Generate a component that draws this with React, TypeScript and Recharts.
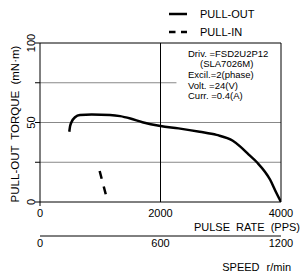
import { LineChart, Line, XAxis, YAxis, ReferenceLine, Customized } from 'recharts';

const pulseRate = [486, 498, 526, 581, 664, 858, 1162, 1330, 1500, 1700, 2000, 2300, 2650, 2930, 3200, 3320, 3460, 3600, 3820, 3920, 4000];
const pullOutTorque = [44.2, 47.4, 50.5, 53.3, 54.7, 55, 54.7, 54, 52.5, 50.2, 47.8, 46.3, 44.2, 42.2, 38.5, 35, 30, 25, 14, 6, 0];
const pullInRate = [990, 1095];
const pullInTorque = [19.5, 4.4];

const ppsTicks = [0, 2000, 4000];
const rpmTicks = [0, 600, 1200];
const torqueTicks = [0, 25, 50, 75, 100];
const torqueLabels = [0, 50, 100];
const conditions = ['Driv. =FSD2U2P12', '(SLA7026M)', 'Excil.=2(phase)', 'Volt.  =24(V)', 'Curr.  =0.4(A)'];

const pullOut = pulseRate.map((x, i) => ({ x, y: pullOutTorque[i] }));
const pullIn = pullInRate.map((x, i) => ({ x, y: pullInTorque[i] }));
// empty series that only carries the speed axis range
const speedRange = rpmTicks.map((rpm) => ({ rpm, y: null }));

const FONT = '"Liberation Sans", Arial, sans-serif';

const YTick = ({ x, y, payload }: any) => {
  if (!torqueLabels.includes(payload.value)) return null;
  return (
    <text x={x - 1} y={y} transform={`rotate(-90 ${x - 1} ${y})`} textAnchor="middle" dominantBaseline="central" fontSize={11} fill="#000" fontFamily={FONT}>
      {payload.value}
    </text>
  );
};

const XTick = ({ x, y, payload }: any) => (
  <g>
    {payload.value === 0 && <line x1={x} x2={x} y1={202} y2={206} stroke="#000" />}
    <text x={x} y={213} textAnchor="middle" dominantBaseline="central" fontSize={11} fill="#000" fontFamily={FONT}>
      {payload.value}
    </text>
  </g>
);

const RpmTick = ({ x, payload }: any) => (
  <text x={x} y={243} textAnchor="middle" dominantBaseline="central" fontSize={11} fill="#000" fontFamily={FONT}>
    {payload.value}
  </text>
);

const Overlay = () => (
  <g fontFamily={FONT} fill="#000">
    {/* legend */}
    <line x1={169} x2={187} y1={14} y2={14} stroke="#000" strokeWidth={2.5} />
    <text x={200} y={14} fontSize={11} dominantBaseline="central">PULL-OUT</text>
    <line x1={169} x2={187} y1={32} y2={32} stroke="#000" strokeWidth={2.5} strokeDasharray="6.5 5.5" />
    <text x={200} y={32} fontSize={11} dominantBaseline="central">PULL-IN</text>
    {/* axis titles */}
    <text x={15} y={124} transform="rotate(-90 15 124)" textAnchor="middle" dominantBaseline="central" fontSize={11.5} wordSpacing={3}>
      PULL-OUT TORQUE (mN·m)
    </text>
    <text x={300} y={227} textAnchor="end" dominantBaseline="central" fontSize={11} wordSpacing={3}>
      PULSE RATE (PPS)
    </text>
    <text x={291} y={267} textAnchor="end" dominantBaseline="central" fontSize={11} wordSpacing={4}>
      SPEED r/min
    </text>
    {/* conditions */}
    {conditions.map((t, i) => (
      <text key={t} x={i === 1 ? 200 : 188} y={[53, 63, 74, 85.5, 95][i]} fontSize={9.5} dominantBaseline="central">
        {t}
      </text>
    ))}
  </g>
);

export default function App() {
  return (
    <div style={{ position: 'absolute', left: 0, top: 0, width: 301, height: 275, background: '#fff' }}>
      <LineChart width={301} height={275} margin={{ top: 43, right: 20, bottom: 0, left: 0 }}>
        <XAxis
          xAxisId="pps"
          type="number"
          dataKey="x"
          domain={[0, 4000]}
          ticks={ppsTicks}
          height={34}
          axisLine={{ stroke: '#000' }}
          tickLine={false}
          tick={<XTick />}
          allowDataOverflow
        />
        <XAxis
          xAxisId="rpm"
          type="number"
          dataKey="rpm"
          domain={[0, 1200]}
          ticks={rpmTicks}
          height={39}
          axisLine={{ stroke: '#000' }}
          tickLine={false}
          tick={<RpmTick />}
          allowDataOverflow
        />
        <YAxis
          yAxisId={0}
          type="number"
          domain={[0, 100]}
          ticks={torqueTicks}
          width={40}
          axisLine={{ stroke: '#000' }}
          tickLine={{ stroke: '#000' }}
          tickSize={5}
          tickMargin={3}
          tick={<YTick />}
          allowDataOverflow
        />
        <ReferenceLine xAxisId="pps" y={25} stroke="#888" />
        <ReferenceLine xAxisId="pps" y={50} stroke="#888" />
        <ReferenceLine xAxisId="pps" segment={[{ x: 0, y: 75 }, { x: 2265, y: 75 }]} stroke="#888" />
        <ReferenceLine xAxisId="pps" x={2000} stroke="#000" />
        <ReferenceLine xAxisId="pps" y={100} stroke="#000" />
        <ReferenceLine xAxisId="pps" x={4000} stroke="#000" />
        <Line
          xAxisId="rpm"
          data={speedRange}
          dataKey="y"
          stroke="none"
          dot={false}
          legendType="none"
          isAnimationActive={false}
        />
        <Line
          xAxisId="pps"
          data={pullOut}
          dataKey="y"
          type="monotone"
          stroke="#000"
          strokeWidth={2.5}
          dot={false}
          isAnimationActive={false}
        />
        <Line
          xAxisId="pps"
          data={pullIn}
          dataKey="y"
          type="linear"
          stroke="#000"
          strokeWidth={2.5}
          strokeDasharray="8 8"
          dot={false}
          isAnimationActive={false}
        />
        <Customized component={<Overlay />} />
      </LineChart>
    </div>
  );
}
